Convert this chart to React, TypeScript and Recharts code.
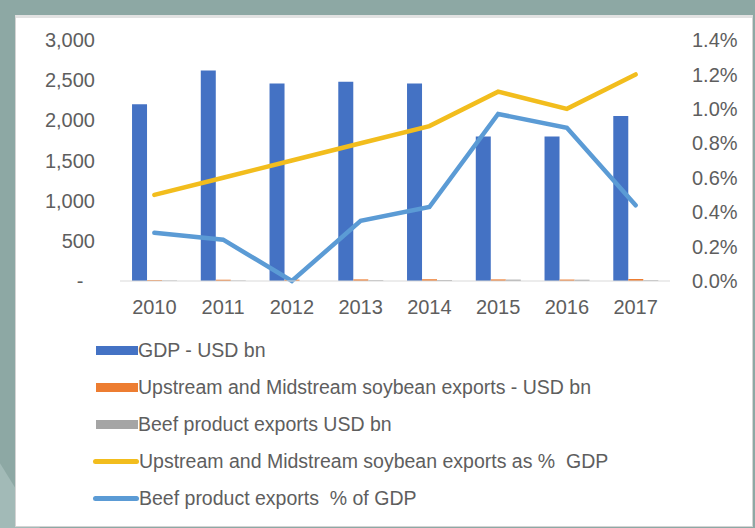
import { Bar, ComposedChart, Legend, Line, XAxis, YAxis } from "recharts";

const years = ["2010", "2011", "2012", "2013", "2014", "2015", "2016", "2017"];
const gdpUsdBn = [2200, 2620, 2460, 2480, 2460, 1800, 1800, 2055];
const soyExportsUsdBn = [11, 16, 17, 20, 22, 20, 18, 25];
const beefExportsUsdBn = [6, 6, 0, 9, 11, 17, 16, 9];
const soyPctGdp = [0.5, 0.6, 0.7, 0.8, 0.9, 1.1, 1.0, 1.2];
const beefPctGdp = [0.28, 0.24, 0.0, 0.35, 0.43, 0.97, 0.89, 0.44];

const leftTicks = [0, 500, 1000, 1500, 2000, 2500, 3000];
const rightTicks = [0, 0.2, 0.4, 0.6, 0.8, 1.0, 1.2, 1.4];

const legendItems = [
  { label: "GDP - USD bn", color: "#4472C4", kind: "bar" },
  { label: "Upstream and Midstream soybean exports - USD bn", color: "#ED7D31", kind: "bar" },
  { label: "Beef product exports USD bn", color: "#A5A5A5", kind: "bar" },
  { label: "Upstream and Midstream soybean exports as %  GDP", color: "#F2BD1D", kind: "line" },
  { label: "Beef product exports  % of GDP", color: "#5B9BD5", kind: "line" },
];

const data = years.map((year, i) => ({
  year,
  gdp: gdpUsdBn[i],
  soy: soyExportsUsdBn[i],
  beef: beefExportsUsdBn[i],
  soyPct: soyPctGdp[i],
  beefPct: beefPctGdp[i],
}));

const FONT = "'Liberation Sans', Arial, sans-serif";
const TEXT = "#5e5e5e";

function LeftTick(props: any) {
  const { x, y, payload } = props;
  if (payload.value === 0) {
    return (
      <text x={80} y={y} dy="0.355em" textAnchor="middle" fill={TEXT} fontSize={20} fontFamily={FONT}>
        -
      </text>
    );
  }
  return (
    <text x={x} y={y} dy="0.355em" textAnchor="end" fill={TEXT} fontSize={20} fontFamily={FONT}>
      {payload.value.toLocaleString("en-US")}
    </text>
  );
}

function LegendRows() {
  return (
    <div style={{ fontFamily: FONT, fontSize: 19.5, color: TEXT }}>
      {legendItems.map((item) => (
        <div key={item.label} style={{ display: "flex", alignItems: "center", height: 37 }}>
          {item.kind === "bar" ? (
            <div style={{ width: 42, height: 9, background: item.color, marginLeft: 3 }} />
          ) : (
            <div style={{ width: 46, height: 5, background: item.color, borderRadius: 3 }} />
          )}
          <span style={{ marginLeft: 0, whiteSpace: "pre" }}>{item.label}</span>
        </div>
      ))}
    </div>
  );
}

export default function App() {
  return (
    <div
      style={{
        position: "absolute",
        left: 0,
        top: 0,
        width: 755,
        height: 528,
        background: "#8DA8A4",
        overflow: "hidden",
      }}
    >
      <div
        style={{
          position: "absolute",
          left: 0,
          top: 420,
          width: 40,
          height: 108,
          background: "#A2BAB7",
          clipPath: "polygon(0 40%, 100% 100%, 0 100%)",
        }}
      />
      <div
        style={{
          position: "absolute",
          left: 15,
          top: 15,
          width: 736,
          height: 508,
          background: "#ffffff",
          border: "1px solid #d4d4d4",
          borderTop: "3px solid #e2e2e2",
        }}
      />
      <div style={{ position: "absolute", left: 0, top: 0 }}>
        <ComposedChart
          width={755}
          height={528}
          data={data}
          margin={{ top: 40, right: 0, left: 0, bottom: 198 }}
          barCategoryGap="17.5%"
          barGap={0}
        >
          <XAxis
            dataKey="year"
            height={49}
            axisLine={{ stroke: "#d9d9d9" }}
            tickLine={false}
            tickSize={0}
            tickMargin={19}
            tick={{ fill: TEXT, fontSize: 20, fontFamily: FONT }}
            interval={0}
          />
          <YAxis
            yAxisId="left"
            width={120}
            domain={[0, 3000]}
            ticks={leftTicks}
            axisLine={false}
            tickLine={false}
            tickSize={0}
            tickMargin={25}
            tick={<LeftTick />}
            interval={0}
          />
          <YAxis
            yAxisId="right"
            orientation="right"
            width={85}
            domain={[0, 1.4]}
            ticks={rightTicks}
            axisLine={false}
            tickLine={false}
            tickSize={0}
            tickMargin={22}
            tick={{ fill: TEXT, fontSize: 20, fontFamily: FONT, textAnchor: "start" }}
            tickFormatter={(v: number) => `${v.toFixed(1)}%`}
            interval={0}
          />
          <Bar yAxisId="left" dataKey="gdp" fill="#4472C4" isAnimationActive={false} />
          <Bar yAxisId="left" dataKey="soy" fill="#ED7D31" isAnimationActive={false} />
          <Bar yAxisId="left" dataKey="beef" fill="#A5A5A5" isAnimationActive={false} />
          <Line
            yAxisId="right"
            type="linear"
            dataKey="soyPct"
            stroke="#F2BD1D"
            strokeWidth={4.5}
            strokeLinecap="round"
            dot={false}
            activeDot={false}
            isAnimationActive={false}
          />
          <Line
            yAxisId="right"
            type="linear"
            dataKey="beefPct"
            stroke="#5B9BD5"
            strokeWidth={4.5}
            strokeLinecap="round"
            dot={false}
            activeDot={false}
            isAnimationActive={false}
          />
          <Legend
            layout="vertical"
            align="center"
            verticalAlign="middle"
            content={() => <LegendRows />}
            wrapperStyle={{ position: "absolute", left: 93, top: 332, width: 640 }}
          />
        </ComposedChart>
      </div>
    </div>
  );
}
